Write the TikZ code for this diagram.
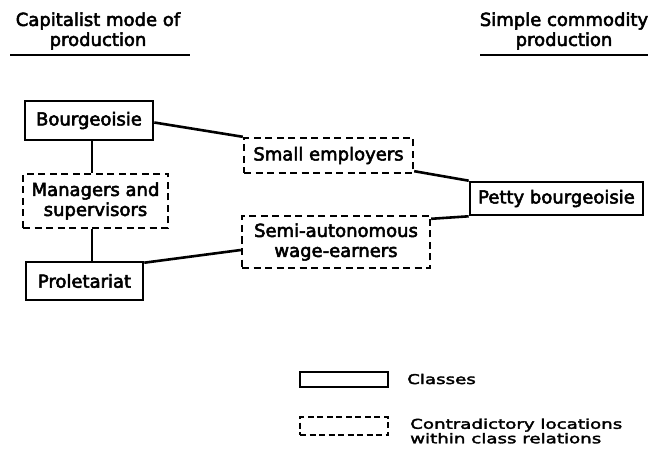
\documentclass[tikz,border=0pt]{standalone}
\usepackage{fontspec}
\setmainfont[FakeBold=3]{DejaVu Sans}
\newfontfamily\legfont[FakeStretch=1.35,FakeBold=2.5]{DejaVu Sans}
\usetikzlibrary{calc}
\begin{document}
\begin{tikzpicture}[x=1pt,y=-1pt,
  every node/.style={font=\fontsize{18}{20}\selectfont, inner sep=0pt},
  cls/.style={draw, line width=2.6pt, align=center},
  contra/.style={draw, line width=2.4pt, dash pattern=on 7pt off 4.5pt, align=center},
  conn/.style={line width=2.6pt},
  uline/.style={line width=2.2pt}]
\useasboundingbox (0,0) rectangle (656,465);
% titles
\node[align=center] (tl) at (98,31) {Capitalist mode of\\production};
\node[align=center] (tr) at (564,31) {Simple commodity\\production};
\draw[uline] ($(tl.south)+(-88,5)$) -- ($(tl.south)+(92,5)$);
\draw[uline] ($(tr.south)+(-84,5)$) -- ($(tr.south)+(84,5)$);
% boxes
\node[cls, minimum width=128pt, minimum height=39pt] (bour) at (89,120.5) {Bourgeoisie};
\node[contra, minimum width=145pt, minimum height=54pt] (mgr) at (95.5,201) {Managers and\\supervisors};
\node[cls, minimum width=117pt, minimum height=38pt] (prol) at (84.5,281) {Proletariat};
\node[contra, minimum width=169pt, minimum height=35pt] (semp) at (328.5,155.5) {Small employers};
\node[cls, minimum width=173pt, minimum height=33pt] (petty) at (556.5,198.5) {Petty bourgeoisie};
\node[contra, minimum width=188pt, minimum height=52pt] (semi) at (336,242) {Semi-autonomous\\wage-earners};
% connectors
\coordinate (vx) at (92,0);
\draw[conn] (bour.south -| vx) -- (mgr.north -| vx);
\draw[conn] (mgr.south -| vx) -- (prol.north -| vx);
\draw[conn] ($(bour.east)+(0,2)$) -- (semp.north west);
\draw[conn] ($(semp.south east)+(0,-3)$) -- (petty.north west);
\draw[conn] ($(semi.north east)+(0,4)$) -- (petty.south west);
\draw[conn] ($(prol.north east)+(0,2)$) -- ($(semi.west)+(0,8)$);
% legend
\node[cls, minimum width=88pt, minimum height=15pt] (lc) at (344,379.5) {};
\node[contra, minimum width=88pt, minimum height=18pt, dash pattern=on 6pt off 3.5pt] (ld) at (344,426) {};
\node[anchor=west, font=\legfont\fontsize{13.5}{14.5}\selectfont] (lct) at (407,379) {Classes};
\node[anchor=west, align=left, font=\legfont\fontsize{13.5}{14.5}\selectfont] (ldt) at (410,431) {Contradictory locations\\within class relations};
\end{tikzpicture}
\end{document}
